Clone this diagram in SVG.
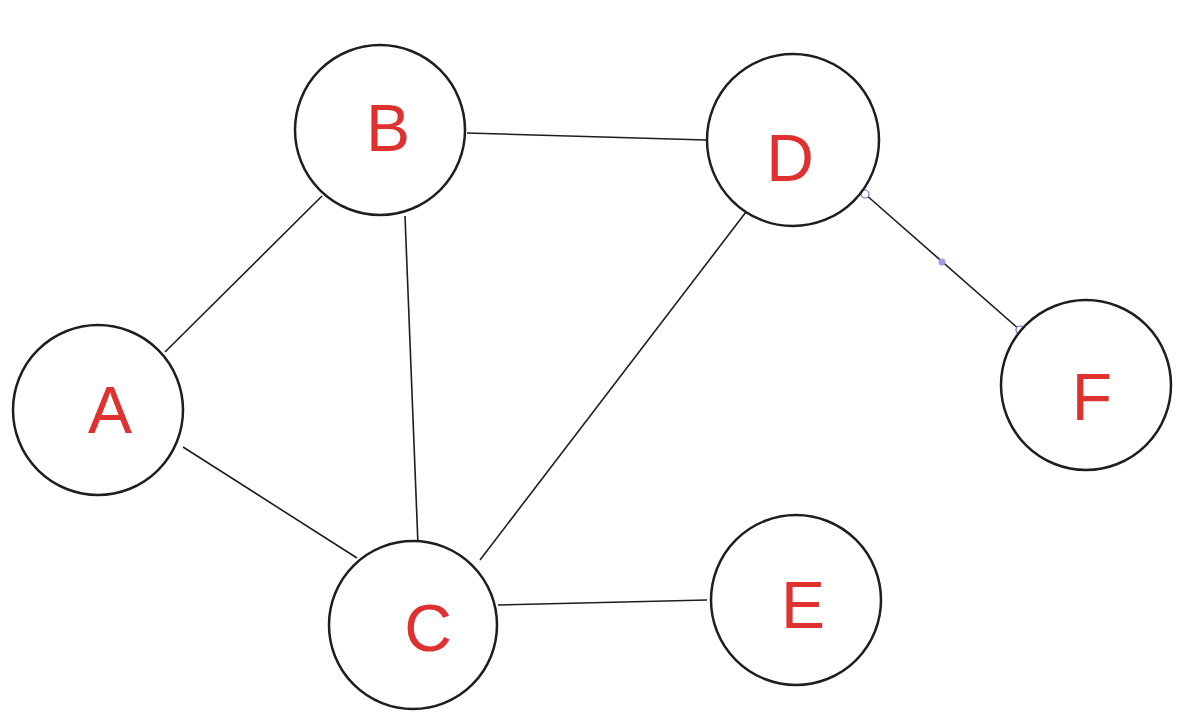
<svg xmlns="http://www.w3.org/2000/svg" width="1201" height="716" viewBox="0 0 1201 716">
<style>
.n{fill:#fff;stroke:#1e1e1e;stroke-width:2.5}
.t{font-family:"Liberation Sans",sans-serif;font-size:66px;fill:#e03131;text-anchor:middle;dominant-baseline:central}
.e{stroke:#1e1e1e;stroke-width:1.6;fill:none}
.h{fill:#fff;stroke:#7b6fd0;stroke-width:1.2}
</style>
<rect width="1201" height="716" fill="#fff"/>
<g id="connectors">
<line class="e" x1="467" y1="133" x2="706" y2="140"/>
<line class="e" x1="165" y1="352" x2="322" y2="196"/>
<line class="e" x1="405" y1="216" x2="418" y2="545"/>
<line class="e" x1="183" y1="447" x2="357" y2="558"/>
<line class="e" x1="746" y1="212" x2="480" y2="560"/>
<line class="e" x1="498" y1="605" x2="707" y2="600"/>
<line class="e" x1="865" y1="194" x2="1020" y2="330"/>
<circle class="h" cx="865" cy="194" r="4"/>
<circle cx="942" cy="262" r="3.5" fill="#a59ae8"/>
<circle class="h" cx="1020" cy="330" r="4"/>
</g>
<g id="B"><circle class="n" cx="380" cy="130" r="85"/><text class="t" x="388" y="128">B</text></g>
<g id="D"><circle class="n" cx="793" cy="140" r="86"/><text class="t" x="790" y="158">D</text></g>
<g id="A"><circle class="n" cx="98" cy="410" r="85"/><text class="t" x="110" y="410">A</text></g>
<g id="F"><circle class="n" cx="1086" cy="385" r="85"/><text class="t" x="1092" y="397">F</text></g>
<g id="C"><circle class="n" cx="413" cy="625" r="84"/><text class="t" x="428" y="628">C</text></g>
<g id="E"><circle class="n" cx="796" cy="600" r="85"/><text class="t" x="803" y="605">E</text></g>
</svg>
